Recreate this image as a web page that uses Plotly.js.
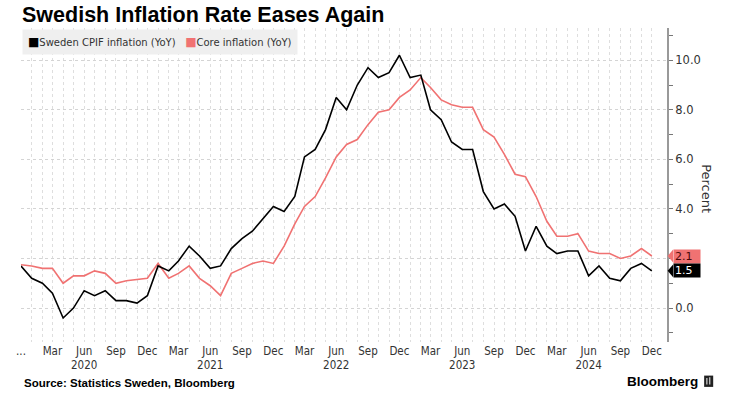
<!DOCTYPE html>
<html>
<head>
<meta charset="utf-8">
<script src="https://cdn.plot.ly/plotly-3.0.1.min.js"></script>
<style>html,body{margin:0;padding:0;background:#fff;}#chart{width:748px;height:403px;}</style>
</head>
<body>
<div id="chart"></div>
<script>
// Monthly data, Dec 2019 .. Dec 2024
const startYear = 2019, startMonth = 12, monthCount = 61;
const cpif = [1.7, 1.2, 1.0, 0.6, -0.4, 0.0, 0.7, 0.5, 0.7, 0.3, 0.3, 0.2, 0.5,
  1.7, 1.5, 1.9, 2.5, 2.1, 1.6, 1.7, 2.4, 2.8, 3.1, 3.6, 4.1,
  3.9, 4.5, 6.1, 6.4, 7.2, 8.5, 8.0, 9.0, 9.7, 9.3, 9.5, 10.2,
  9.3, 9.4, 8.0, 7.6, 6.7, 6.4, 6.4, 4.7, 4.0, 4.2, 3.7, 2.3,
  3.3, 2.5, 2.2, 2.3, 2.3, 1.3, 1.7, 1.2, 1.1, 1.6, 1.8, 1.5];
const core = [1.75, 1.7, 1.6, 1.6, 1.0, 1.3, 1.3, 1.5, 1.4, 1.0, 1.1, 1.15, 1.2,
  1.8, 1.2, 1.4, 1.7, 1.2, 0.9, 0.5, 1.4, 1.6, 1.8, 1.9, 1.8,
  2.5, 3.4, 4.1, 4.5, 5.25, 6.1, 6.6, 6.8, 7.4, 7.9, 8.0, 8.5,
  8.8, 9.3, 8.9, 8.4, 8.2, 8.1, 8.1, 7.2, 6.9, 6.2, 5.4, 5.3,
  4.5, 3.5, 2.9, 2.9, 3.0, 2.3, 2.2, 2.2, 2.0, 2.1, 2.4, 2.1];
const quarterLabels = ['...', 'Mar', 'Jun<br>2020', 'Sep', 'Dec', 'Mar', 'Jun<br>2021', 'Sep', 'Dec',
  'Mar', 'Jun<br>2022', 'Sep', 'Dec', 'Mar', 'Jun<br>2023', 'Sep', 'Dec',
  'Mar', 'Jun<br>2024', 'Sep', 'Dec'];
const yTicks = [0, 2, 4, 6, 8, 10];
// the 2.0 label is hidden behind the end-value labels in the reference
const yTickLabels = ['0.0', '', '4.0', '6.0', '8.0', '10.0'];
const yMinorTicks = [-1, 1, 3, 5, 7, 9, 11];
const seriesNames = ['Sweden CPIF inflation (YoY)', 'Core inflation (YoY)'];
const colors = {cpif: '#000000', core: '#f07272'};

const months = [];
for (let i = 0; i < monthCount; i++) {
  const m0 = startMonth - 1 + i;
  const y = startYear + Math.floor(m0 / 12);
  const m = (m0 % 12) + 1;
  months.push(y + '-' + String(m).padStart(2, '0') + '-01');
}
const ticktext = months.map((d, i) => (i % 3 === 0 ? quarterLabels[i / 3] : ''));

const traces = [
  {x: months, y: core, type: 'scatter', mode: 'lines', name: seriesNames[1],
   line: {color: colors.core, width: 1.6}, hoverinfo: 'skip'},
  {x: months, y: cpif, type: 'scatter', mode: 'lines', name: seriesNames[0],
   line: {color: colors.cpif, width: 1.6}, hoverinfo: 'skip'}
];

const lastCpif = cpif[cpif.length - 1];
const lastCore = core[core.length - 1];
const tw = 0.0085, th = 0.26;
function tri(v, c) {
  return {type: 'path', xref: 'paper', yref: 'y', layer: 'above',
    path: 'M 1.001 ' + v + ' L ' + (1.001 + tw) + ' ' + (v + th) + ' L ' + (1.001 + tw) + ' ' + (v - th) + ' Z',
    fillcolor: c, line: {width: 0}};
}

const layout = {
  width: 748, height: 403,
  margin: {l: 21, r: 81, t: 28, b: 61},
  paper_bgcolor: '#ffffff', plot_bgcolor: '#ffffff',
  showlegend: false,
  title: {text: '<b>Swedish Inflation Rate Eases Again</b>', x: 22 / 748, xanchor: 'left',
    xref: 'container', yref: 'container', y: 1 - 14 / 403, yanchor: 'middle',
    font: {family: 'Liberation Sans, Arial, sans-serif', size: 21.5, color: '#000'}},
  xaxis: {
    type: 'date', range: ['2019-12-01', '2025-01-14'],
    tickmode: 'array', tickvals: months, ticktext: ticktext,
    ticks: '', showgrid: true, gridcolor: '#dedede', griddash: 'dot', gridwidth: 1,
    showline: false, zeroline: false,
    tickfont: {family: 'DejaVu Sans Condensed, DejaVu Sans, sans-serif', size: 11.5, color: '#333'}
  },
  yaxis: {
    side: 'right', range: [-1.37, 11.3],
    tickmode: 'array', tickvals: yTicks, ticktext: yTickLabels,
    ticks: 'outside', ticklen: 4, tickcolor: '#777', tickwidth: 1,
    showline: true, linecolor: '#999', linewidth: 2,
    showgrid: true, gridcolor: '#d4d4d4', griddash: 'dot', zeroline: false,
    minor: {tickmode: 'array', tickvals: yMinorTicks, ticks: 'outside', ticklen: 4, tickcolor: '#777', showgrid: false},
    tickfont: {family: 'DejaVu Sans, sans-serif', size: 11.5, color: '#333'}
  },
  shapes: [
    tri(lastCore, colors.core),
    tri(lastCpif, '#000'),
    {type: 'rect', xref: 'paper', yref: 'paper', x0: 1.0575, x1: 1.0715, y0: -0.107, y1: -0.143,
     fillcolor: '#222', line: {width: 0}},
    {type: 'rect', xref: 'paper', yref: 'paper', x0: 1.061, x1: 1.0625, y0: -0.115, y1: -0.135,
     fillcolor: '#fff', line: {width: 0}},
    {type: 'rect', xref: 'paper', yref: 'paper', x0: 1.0655, x1: 1.067, y0: -0.112, y1: -0.135,
     fillcolor: '#fff', line: {width: 0}}
  ],
  annotations: [
    {xref: 'paper', yref: 'paper', x: 0.0015, y: 1, xanchor: 'left', yanchor: 'top', yshift: -1,
     showarrow: false, align: 'left', bgcolor: '#efefef', borderpad: 5,
     text: '<span style="color:#000;font-size:12px">■</span>' + seriesNames[0] + '   <span style="color:' + colors.core + ';font-size:12px">■</span>' + seriesNames[1],
     font: {family: 'DejaVu Sans, sans-serif', size: 10, color: '#333'}},
    {xref: 'paper', yref: 'y', x: 1 + tw + 0.001, y: lastCore, xanchor: 'left', yanchor: 'middle',
     showarrow: false, text: lastCore.toFixed(1), bgcolor: colors.core, width: 24, height: 11, align: 'left',
     borderpad: 1, font: {family: 'DejaVu Sans, sans-serif', size: 11, color: '#4a0a0a'}},
    {xref: 'paper', yref: 'y', x: 1 + tw + 0.001, y: lastCpif, xanchor: 'left', yanchor: 'middle',
     showarrow: false, text: lastCpif.toFixed(1), bgcolor: '#000', width: 24, height: 11, align: 'left',
     borderpad: 1, font: {family: 'DejaVu Sans, sans-serif', size: 11, color: '#fff'}},
    {xref: 'paper', yref: 'paper', x: (707 - 21) / 646, y: 0.49, xanchor: 'center', yanchor: 'middle',
     showarrow: false, text: 'Percent', textangle: 90,
     font: {family: 'DejaVu Sans, sans-serif', size: 13, color: '#333'}},
    {xref: 'paper', yref: 'paper', x: 0.0015, y: (342 - 383) / 314, xanchor: 'left', yanchor: 'middle',
     showarrow: false, text: '<b>Source: Statistics Sweden, Bloomberg</b>',
     font: {family: 'Liberation Sans, Arial, sans-serif', size: 11.5, color: '#000'}},
    {xref: 'paper', yref: 'paper', x: (700 - 21) / 646, y: (342 - 381) / 314, xanchor: 'right', yanchor: 'middle',
     showarrow: false, text: '<b>Bloomberg</b>',
     font: {family: 'Liberation Sans, Arial, sans-serif', size: 13.5, color: '#000'}}
  ]
};

Plotly.newPlot('chart', traces, layout, {displayModeBar: false, staticPlot: true});
</script>
</body>
</html>
